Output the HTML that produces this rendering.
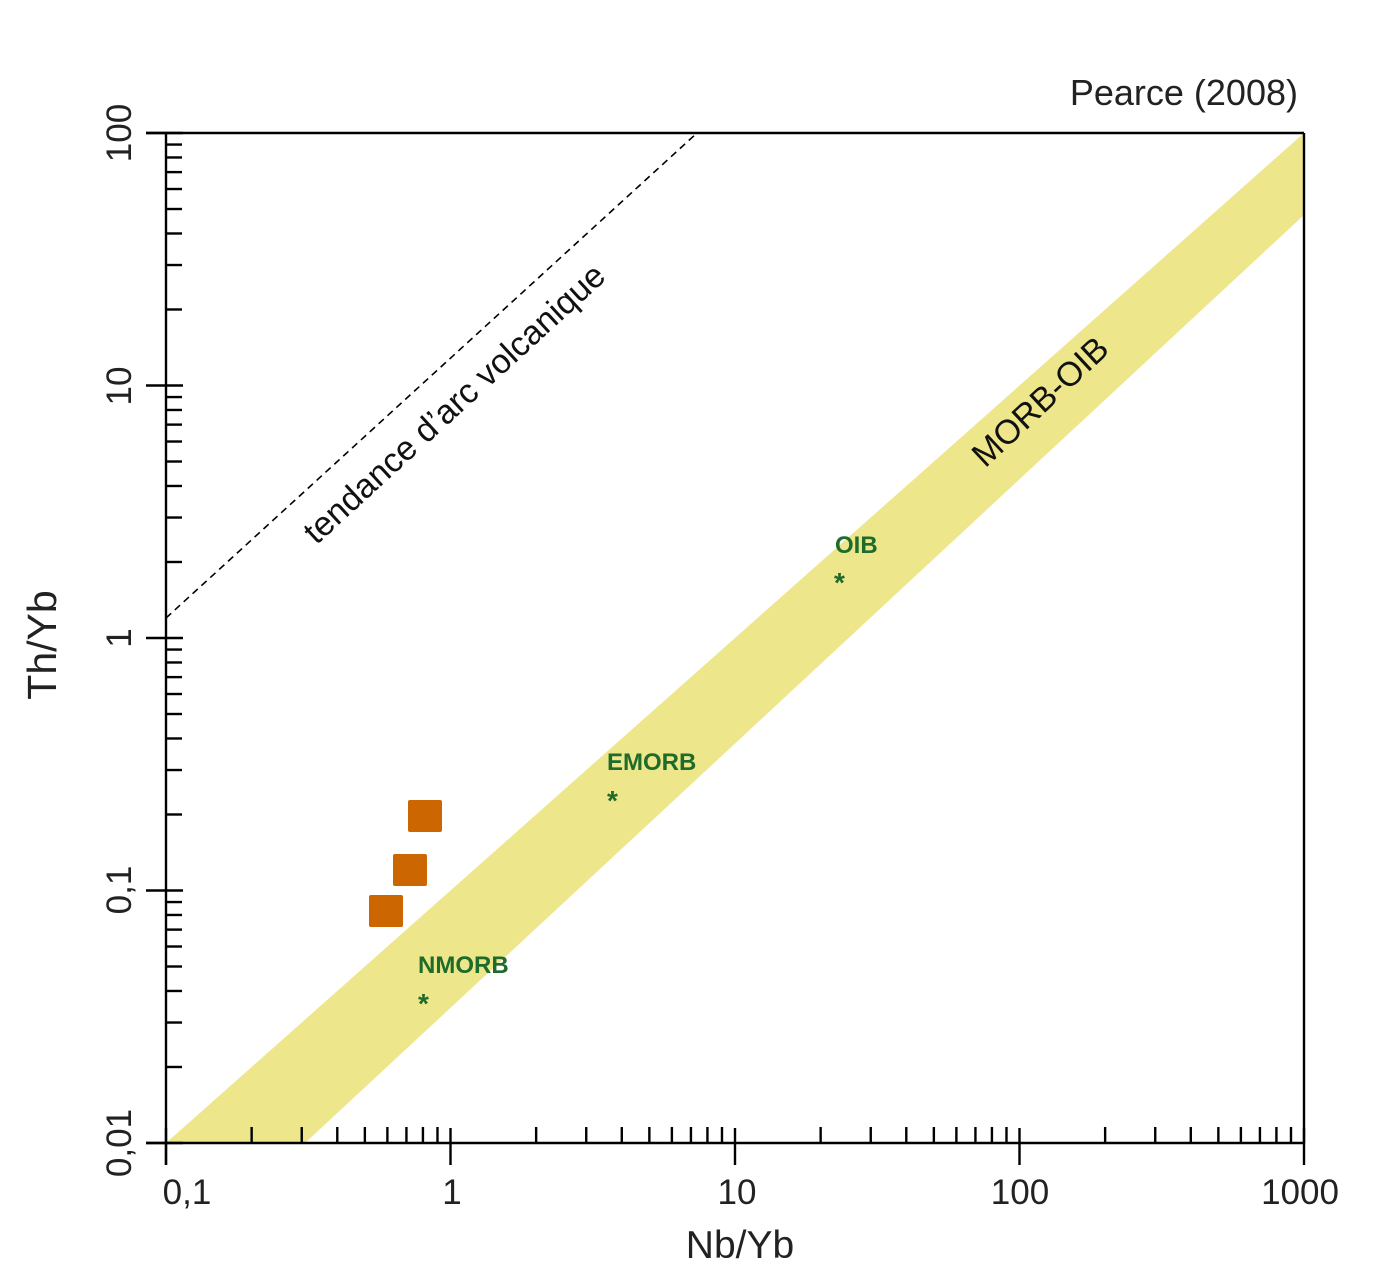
<!DOCTYPE html>
<html><head><meta charset="utf-8"><style>
body{margin:0;background:#fff}
svg{display:block;font-family:"Liberation Sans",sans-serif}
</style></head><body>
<svg id="s" width="1399" height="1275" viewBox="0 0 1399 1275" xmlns="http://www.w3.org/2000/svg">
<polygon points="166,1143 305,1143 1304,215 1304,133" fill="#ede68a"/>
<line x1="166" y1="618" x2="697" y2="133" stroke="#000" stroke-width="1.6" stroke-dasharray="7,5"/>
<g id="ax" stroke="#000" stroke-width="2.4"></g>
<line x1="146" y1="133" x2="1304" y2="133" stroke="#000" stroke-width="2.4"/>
<line x1="1304" y1="133" x2="1304" y2="1143" stroke="#000" stroke-width="2.4"/>
<line x1="146" y1="1143" x2="1304" y2="1143" stroke="#000" stroke-width="2.4"/>
<line x1="166" y1="133" x2="166" y2="1165" stroke="#000" stroke-width="2.4"/>
<g font-size="35" fill="#222" text-anchor="middle">
<text x="187" y="1204">0,1</text><text x="452" y="1204">1</text><text x="737" y="1204">10</text><text x="1020" y="1204">100</text><text x="1300" y="1204">1000</text>
<text transform="translate(131,1143) rotate(-90)">0,01</text>
<text transform="translate(131,890) rotate(-90)">0,1</text>
<text transform="translate(131,638) rotate(-90)">1</text>
<text transform="translate(131,386) rotate(-90)">10</text>
<text transform="translate(131,133) rotate(-90)">100</text>
</g>
<text x="740" y="1258" font-size="39" text-anchor="middle" fill="#222">Nb/Yb</text>
<text transform="translate(56,645) rotate(-90)" font-size="41" text-anchor="middle" fill="#222">Th/Yb</text>
<text x="1298" y="105" font-size="36" text-anchor="end" fill="#222">Pearce (2008)</text>
<text transform="translate(462,412) rotate(-42.5)" font-size="34" text-anchor="middle" fill="#111">tendance d’arc volcanique</text>
<text transform="translate(1048,410) rotate(-43)" font-size="34" text-anchor="middle" fill="#111">MORB-OIB</text>
<g fill="#1e6b2a" font-weight="bold" font-size="24">
<text x="418" y="973">NMORB</text><text x="418" y="1013" font-size="28">*</text>
<text x="607" y="770">EMORB</text><text x="607" y="810" font-size="28">*</text>
<text x="835" y="553">OIB</text><text x="834" y="592" font-size="28">*</text>
</g>
<g fill="#cc6600">
<rect x="369" y="895" width="34" height="32" rx="2"/>
<rect x="393" y="854" width="34" height="32" rx="2"/>
<rect x="408" y="800" width="34" height="32" rx="2"/>
</g>
</svg>
<script>
var g=document.getElementById('ax'),h='';
function X(v){return 166+(Math.log10(v)+1)*284.5}
function Y(v){return 1143-(Math.log10(v)+2)*252.5}
for(var d=0.1;d<1000;d*=10){for(var k=1;k<10;k++){var x=X(d*k);
if(k==1)h+='<line x1="'+x+'" y1="1128" x2="'+x+'" y2="1165"/>';else h+='<line x1="'+x+'" y1="1127" x2="'+x+'" y2="1143"/>';}}
h+='<line x1="1304" y1="1128" x2="1304" y2="1165"/>';
for(var d=0.01;d<100;d*=10){for(var k=1;k<10;k++){var y=Y(d*k);
if(k==1)h+='<line x1="146" y1="'+y+'" x2="183" y2="'+y+'"/>';else h+='<line x1="166" y1="'+y+'" x2="182" y2="'+y+'"/>';}}
h+='<line x1="146" y1="133" x2="183" y2="133"/>';
g.innerHTML=h;
</script>
</body></html>
